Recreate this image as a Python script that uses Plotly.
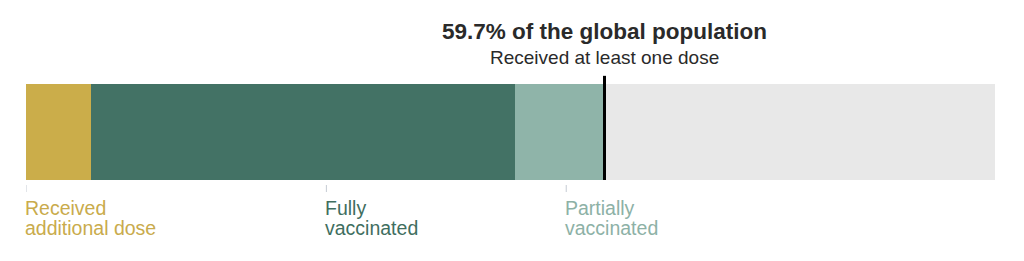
import plotly.graph_objects as go

# Data (percent of global population)
categories = ["Received additional dose", "Fully vaccinated", "Partially vaccinated"]
label_lines = [["Received", "additional dose"], ["Fully", "vaccinated"], ["Partially", "vaccinated"]]
values = [6.7, 43.8, 9.2]
at_least_one_dose = 59.7
remainder = 100 - at_least_one_dose

colors = ["#CBAD4A", "#437265", "#8FB4A9"]
text_colors = ["#C9AB4C", "#3F6E60", "#8DB1A6"]
label_x = [0.0, 31.0, 55.75]   # label anchor positions along the bar (layout only)

FONT = "Liberation Sans, Arial, sans-serif"

fig = go.Figure()
for name, v, c in zip(categories, values, colors):
    fig.add_trace(go.Bar(x=[v], y=[0], orientation="h", name=name,
                         marker=dict(color=c, line=dict(width=0)),
                         width=1, hoverinfo="skip", showlegend=False))
fig.add_trace(go.Bar(x=[remainder], y=[0], orientation="h", name="Not vaccinated",
                     marker=dict(color="#E8E8E8", line=dict(width=0)),
                     width=1, hoverinfo="skip", showlegend=False))

shapes = [dict(type="line", xref="x", yref="paper", x0=at_least_one_dose, x1=at_least_one_dose,
               y0=0, y1=1.085, line=dict(color="#000000", width=3))]
annotations = []
for lx, lines, tc in zip(label_x, label_lines, text_colors):
    shapes.append(dict(type="line", xref="x", yref="paper", x0=lx, x1=lx,
                       y0=-0.052, y1=-0.125, line=dict(color="#C5CBD3", width=1)))
    for i, ln in enumerate(lines):
        annotations.append(dict(x=lx, y=-0.292 - 0.208 * i, xref="x", yref="paper", text=ln,
                                showarrow=False, xanchor="left", yanchor="middle", align="left",
                                xshift=-3,
                                font=dict(family=FONT, size=19.5, color=tc)))

annotations.append(dict(x=at_least_one_dose, y=1.542, xref="x", yref="paper",
                        text="<b>%.1f%% of the global population</b>" % at_least_one_dose,
                        showarrow=False, xanchor="center", yanchor="middle",
                        font=dict(family=FONT, size=22.5, color="#2a2a2a")))
annotations.append(dict(x=at_least_one_dose, y=1.281, xref="x", yref="paper",
                        text="Received at least one dose",
                        showarrow=False, xanchor="center", yanchor="middle",
                        font=dict(family=FONT, size=19, color="#2a2a2a")))

fig.update_layout(
    barmode="stack",
    width=1024, height=261,
    margin=dict(l=26, r=29, t=84, b=81, pad=0),
    paper_bgcolor="white", plot_bgcolor="white",
    xaxis=dict(range=[0, 100], visible=False, fixedrange=True),
    yaxis=dict(range=[-0.5, 0.5], visible=False, fixedrange=True),
    shapes=shapes, annotations=annotations,
    bargap=0,
)

fig.write_html("out.html", config={"displayModeBar": False})
